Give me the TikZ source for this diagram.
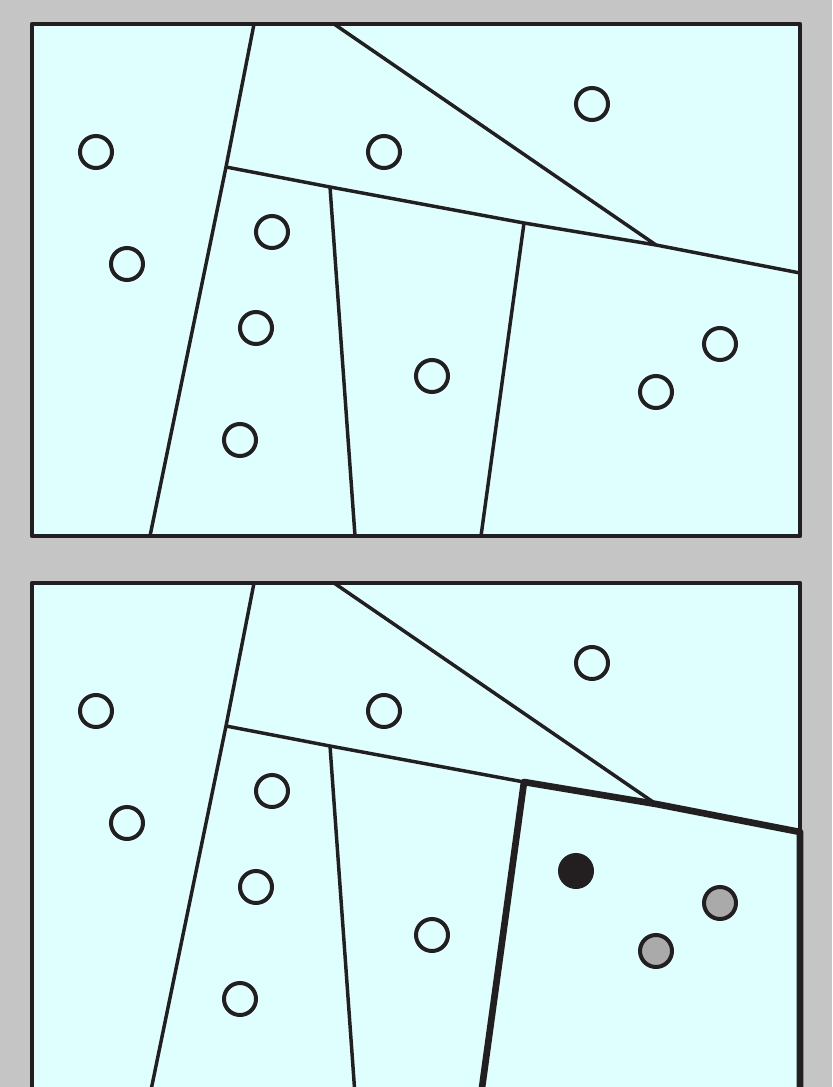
\documentclass[tikz,border=0pt]{standalone}
\usetikzlibrary{positioning}

\definecolor{pagebg}{HTML}{C4C5C4}
\definecolor{panelbg}{HTML}{DFFFFF}
\definecolor{ink}{HTML}{231F20}
\definecolor{sitegray}{HTML}{AAAAAA}

\tikzset{
  frame/.style={draw=ink, line width=3.2pt, line join=round, fill=panelbg},
  edge/.style={ink, line width=2.6pt},
  cell/.style={ink, line width=5pt, line join=round},
  site/.style={circle, draw=ink, line width=3pt, minimum size=24pt, inner sep=0pt},
  near/.style={site, fill=sitegray},
  query/.style={circle, fill=ink, minimum size=27pt, inner sep=0pt},
}

\begin{document}
\begin{tikzpicture}[x=0.75pt, y=-0.75pt]
    % Page background
    \fill[pagebg] (0,0) rectangle (832,1087);
    \clip (0,0) rectangle (832,1087);

    % Draw both panels
    \foreach \p/\dy/\hl in {t/0/site, b/559/near} {
        \begin{scope}[shift={(0,\dy)}]
            \coordinate (\p-nw) at (32,24);
            \coordinate (\p-se) at (800,536);
            \coordinate (\p-v1) at (254,24);
            \coordinate (\p-v2) at (226,167);
            \coordinate (\p-v3) at (334,24);
            \coordinate (\p-v4) at (330,187);
            \coordinate (\p-v5) at (524,223);
            \coordinate (\p-v6) at (656,245);
            \coordinate (\p-v7) at (800,273);
            \coordinate (\p-w1) at (150,536);
            \coordinate (\p-w2) at (355,536);
            \coordinate (\p-w3) at (481,536);

            \draw[frame] (\p-nw) rectangle (\p-se);

            % Cell boundaries
            \draw[edge] (\p-v1) -- (\p-v2);
            \draw[edge] (\p-v3) -- (\p-v6);
            \draw[edge] (\p-v2) -- (\p-v4) -- (\p-v5) -- (\p-v6) -- (\p-v7);
            \draw[edge] (\p-v2) -- (\p-w1);
            \draw[edge] (\p-v4) -- (\p-w2);
            \draw[edge] (\p-v5) -- (\p-w3);

            % Sites
            \foreach \x/\y [count=\i] in {96/152, 127/264, 384/152, 592/104,
                272/232, 256/328, 240/440, 432/376} {
                \node[site] (\p-s\i) at (\x,\y) {};
            }
            \node[\hl] (\p-s9) at (720,344) {};
            \node[\hl] (\p-s10) at (656,392) {};
        \end{scope}
    }

    % Highlight the cell holding the query point
    \draw[cell] (b-w3) -- (b-v5) -- (b-v6) -- (b-v7) -- (b-se);
    \node[query] (q) at (576,871) {};
\end{tikzpicture}
\end{document}
